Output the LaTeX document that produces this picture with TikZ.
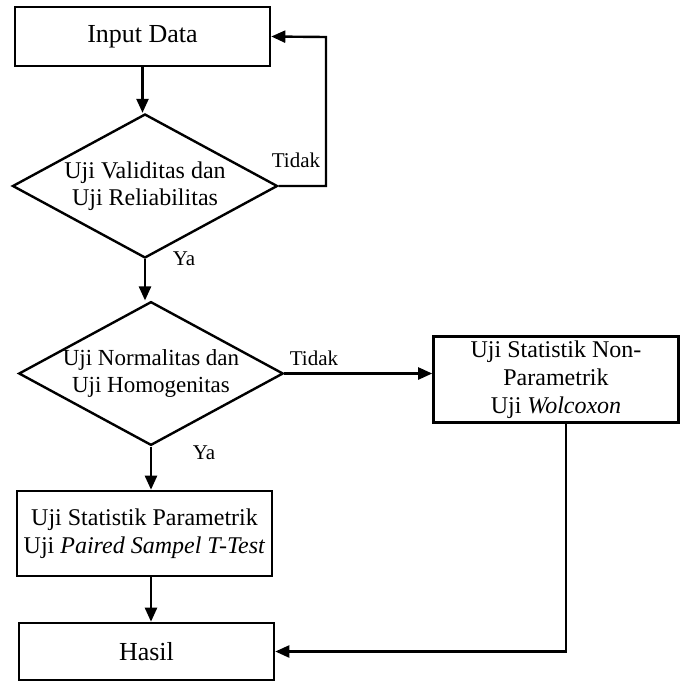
\documentclass[tikz,border=0pt]{standalone}
\usepackage{fontspec}
\setmainfont{Liberation Serif}
\usetikzlibrary{arrows.meta,shapes.geometric,positioning}
\tikzset{
  ar/.style={-{Triangle[length=7pt,width=6pt]},line width=1.2pt},
  box/.style={draw,line width=1.3pt,align=center,inner sep=2pt,font=\fontsize{12}{14}\selectfont},
  dec/.style={draw,diamond,line width=1.2pt,align=center,inner sep=0pt,aspect=1.84,font=\fontsize{12}{13.5}\selectfont},
  lbl/.style={font=\fontsize{10.5}{12}\selectfont}
}
\begin{document}
\begin{tikzpicture}[x=0.5pt,y=-0.5pt]
\useasboundingbox (0,0) rectangle (680,682);
% main column
\node[box,minimum width=127.5pt,minimum height=29.5pt,font=\fontsize{13}{15}\selectfont] (input) at (142.5,36.5) {Input Data};
\node[dec,minimum width=132.5pt,minimum height=72pt] (valid) at (145,186) {Uji Validitas dan\\Uji Reliabilitas};
\node[dec,minimum width=132pt,minimum height=69.5pt,font=\fontsize{11.5}{13.5}\selectfont] (normal) at (151,373.5) {Uji Normalitas dan\\Uji Homogenitas};
\node[box,minimum width=127.5pt,minimum height=42.5pt] (param) at (144.5,533.5) {Uji Statistik Parametrik\\Uji \textit{Paired Sampel T-Test}};
\node[box,minimum width=127.5pt,minimum height=28.5pt,font=\fontsize{13}{15}\selectfont] (hasil) at (146.5,651.5) {Hasil};
% right branch
\node[box,minimum width=122.5pt,minimum height=42.5pt] (nonpar) at (556,379.5) {Uji Statistik Non-\\Parametrik\\Uji \textit{Wolcoxon}};
\coordinate (loop) at (326,37);
\coordinate (turn) at (566,651.5);
% connectors
\draw[ar] (input.south) -- (input.south |- valid.north);
\draw[ar] (valid.east) -| (loop) -- (input.east);
\draw[ar] (valid.south) -- (valid.south |- normal.north);
\draw[ar] (normal.east) -- (normal.east -| nonpar.west);
\draw[ar] (normal.south) -- (normal.south |- param.north);
\draw[ar] (param.south -| normal.south) -- (normal.south |- hasil.north);
\draw[ar] (nonpar.south -| turn) -- (turn) -- (hasil.east);
% labels
\node[lbl] (tidaka) at (296,160) {Tidak};
\node[lbl] (yaa) at (184,259) {Ya};
\node[lbl] (tidakb) at (314,358) {Tidak};
\node[lbl] (yab) at (204,453) {Ya};
\end{tikzpicture}
\end{document}
